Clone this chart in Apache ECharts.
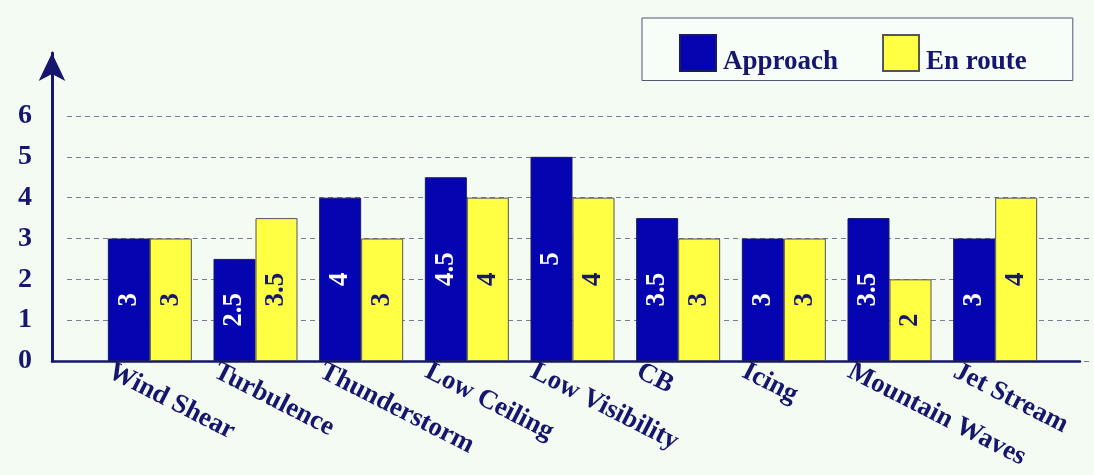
<!DOCTYPE html>
<html>
<head>
<meta charset="utf-8">
<script src="https://cdn.jsdelivr.net/npm/echarts@6/dist/echarts.min.js"></script>
<style>
html,body{margin:0;padding:0;background:#f3fbf3;}
#c{width:1094px;height:475px;}
</style>
</head>
<body>
<div id="c"></div>
<script>
const categories = ['Wind Shear','Turbulence','Thunderstorm','Low Ceiling','Low Visibility','CB','Icing','Mountain Waves','Jet Stream'];
const approach = [3, 2.5, 4, 4.5, 5, 3.5, 3, 3.5, 3];
const enRoute = [3, 3.5, 3, 4, 4, 3, 3, 2, 4];
const yTicks = [0, 1, 2, 3, 4, 5, 6];

const navy = '#16166e';
const serif = '"Liberation Serif","DejaVu Serif",serif';

const chart = echarts.init(document.getElementById('c'));
chart.setOption({
  backgroundColor: '#f3fbf3',
  animation: false,
  legend: {
    data: ['Approach', 'En route'],
    left: 642, top: 18,
    padding: [16, 46, 5, 37],
    itemWidth: 36, itemHeight: 36,
    itemGap: 44,
    icon: 'rect',
    backgroundColor: '#f7fdf7',
    borderColor: '#55557a', borderWidth: 1,
    formatter: name => '{t|' + name + '}',
    textStyle: {
      fontFamily: serif, fontWeight: 'bold', fontSize: 27, color: navy,
      rich: {t: {fontFamily: serif, fontWeight: 'bold', fontSize: 27, color: navy, padding: [18, 0, 0, 2]}}
    }
  },
  grid: [
    {left: 52, right: 14, top: 53, bottom: 114},
    {left: 67, right: 4, top: 116, bottom: 114},
    {left: 97, right: 46, top: 116, bottom: 114},
    {left: 57, right: 86, top: 116, bottom: 114}
  ],
  xAxis: [
    {gridIndex: 0, type: 'value', min: 0, max: 1, axisLine: {show: true, lineStyle: {color: navy, width: 2.5}}, axisTick: {show: false}, axisLabel: {show: false}, splitLine: {show: false}},
    {gridIndex: 1, type: 'value', min: 0, max: 1, axisLine: {show: false}, axisTick: {show: false}, axisLabel: {show: false}, splitLine: {show: false}},
    {gridIndex: 2, type: 'category', data: categories, axisLine: {show: false}, axisTick: {show: false}, axisLabel: {show: false}},
    {gridIndex: 3, type: 'category', data: categories, axisLine: {show: false}, axisTick: {show: false},
      axisLabel: {interval: 0, rotate: -27, margin: 9, fontFamily: serif, fontWeight: 'bold', fontSize: 27, color: navy}}
  ],
  yAxis: [
    {gridIndex: 0, type: 'value', min: 0, max: 7.5, axisLine: {show: true, symbol: ['none', 'arrow'], symbolSize: [20, 28], lineStyle: {color: navy, width: 3}}, axisTick: {show: false}, axisLabel: {show: false}, splitLine: {show: false}},
    {gridIndex: 1, type: 'value', min: 0, max: 6, interval: 1, axisLine: {show: false}, axisTick: {show: false},
      axisLabel: {margin: 35, fontFamily: serif, fontWeight: 'bold', fontSize: 28, color: navy, formatter: v => yTicks.includes(v) ? String(v) : ''},
      splitLine: {show: true, lineStyle: {color: '#7a7a96', type: [5, 4], width: 1}}},
    {gridIndex: 2, type: 'value', min: 0, max: 6, show: false},
    {gridIndex: 3, type: 'value', min: 0, max: 6, show: false}
  ],
  series: [
    {name: 'Approach', type: 'bar', xAxisIndex: 2, yAxisIndex: 2, data: approach, barWidth: 42, barGap: '0%',
      itemStyle: {color: '#0404b0', borderColor: '#1a1a60', borderWidth: 1},
      label: {show: true, position: 'inside', rotate: 90, fontFamily: serif, fontWeight: 'bold', fontSize: 27, color: '#ffffff'}},
    {name: 'En route', type: 'bar', xAxisIndex: 2, yAxisIndex: 2, data: enRoute, barWidth: 42,
      itemStyle: {color: '#ffff44', borderColor: '#555555', borderWidth: 1},
      label: {show: true, position: 'inside', rotate: 90, fontFamily: serif, fontWeight: 'bold', fontSize: 27, color: navy}}
  ]
});
</script>
</body>
</html>
